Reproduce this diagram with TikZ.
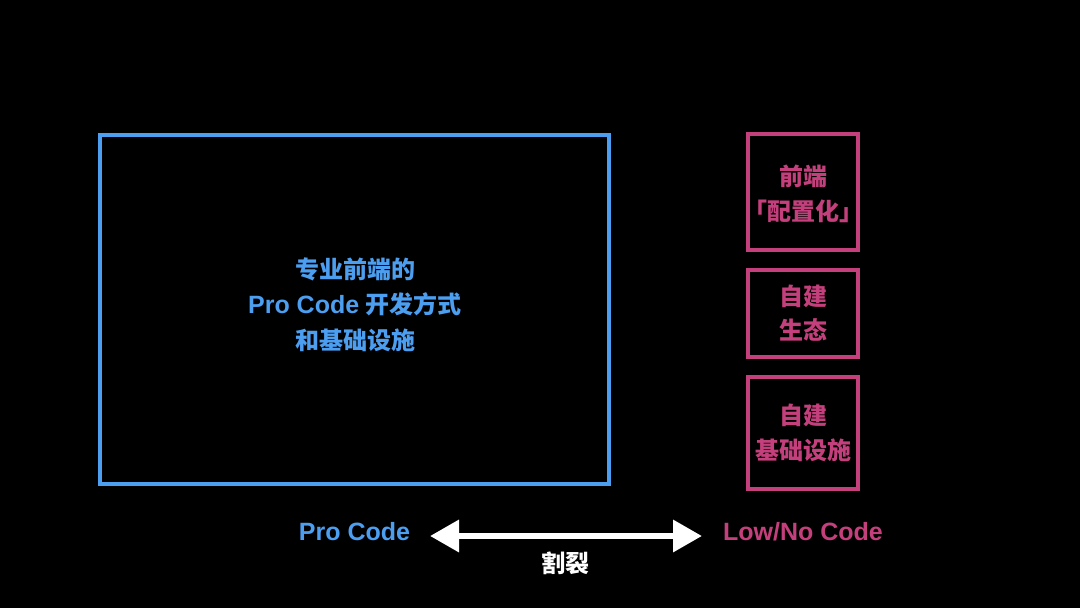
\documentclass[tikz,border=0pt]{standalone}
\usepackage{fontspec}
\setmainfont{Liberation Sans}
\newfontfamily\cjk{Noto Sans CJK SC}
\usetikzlibrary{arrows.meta}
\definecolor{problue}{RGB}{76,158,240}
\definecolor{lowpink}{RGB}{196,64,124}
\begin{document}
\begin{tikzpicture}[x=1pt,y=-1pt,
  txt/.style={font=\fontsize{24}{29}\selectfont\bfseries, inner sep=0pt, anchor=center},
  lat/.style={font=\fontsize{25}{30}\selectfont\bfseries, inner sep=0pt, anchor=center},
  bluebox/.style={draw=problue, line width=4pt, inner sep=0pt},
  pinkbox/.style={draw=lowpink, line width=4pt, inner sep=0pt, minimum width=110pt}]
\fill[black] (0,0) rectangle (1080,608);
\useasboundingbox (0,0) rectangle (1080,608);
% main blue box
\node[bluebox, minimum width=509pt, minimum height=349pt] (pro) at (354.5,309.5) {};
\node[txt, text=problue] (p1) at (355,269) {\cjk 专业前端的};
\node[txt, text=problue] (p2) at (355,304) {{\fontsize{25}{30}\selectfont Pro Code} {\cjk 开发方式}};
\node[txt, text=problue] (p3) at (355,340) {\cjk 和基础设施};
% pink boxes
\node[pinkbox, minimum height=116pt] (b1) at (803,192) {};
\node[txt, text=lowpink] (b1a) at (803,176) {\cjk 前端};
\node[txt, text=lowpink] (b1b) at (803,211) {\cjk 「配置化」};
\node[pinkbox, minimum height=87pt] (b2) at (803,313.5) {};
\node[txt, text=lowpink] (b2a) at (803,296) {\cjk 自建};
\node[txt, text=lowpink] (b2b) at (803,330) {\cjk 生态};
\node[pinkbox, minimum height=112pt] (b3) at (803,433) {};
\node[txt, text=lowpink] (b3a) at (803,415) {\cjk 自建};
\node[txt, text=lowpink] (b3b) at (803,450) {\cjk 基础设施};
% bottom
\node[lat, text=problue] (lpro) at (354.5,532) {Pro Code};
\node[lat, text=lowpink] (llow) at (803,532) {Low/No Code};
\coordinate (al) at (430,536);
\coordinate (ar) at (702,536);
\draw[white, line width=6.5pt, {Triangle[length=29pt,width=31pt]}-{Triangle[length=29pt,width=31pt]}] (al) -- (ar);
\node[txt, text=white] (split) at (565.5,563) {\cjk 割裂};
\end{tikzpicture}
\end{document}
